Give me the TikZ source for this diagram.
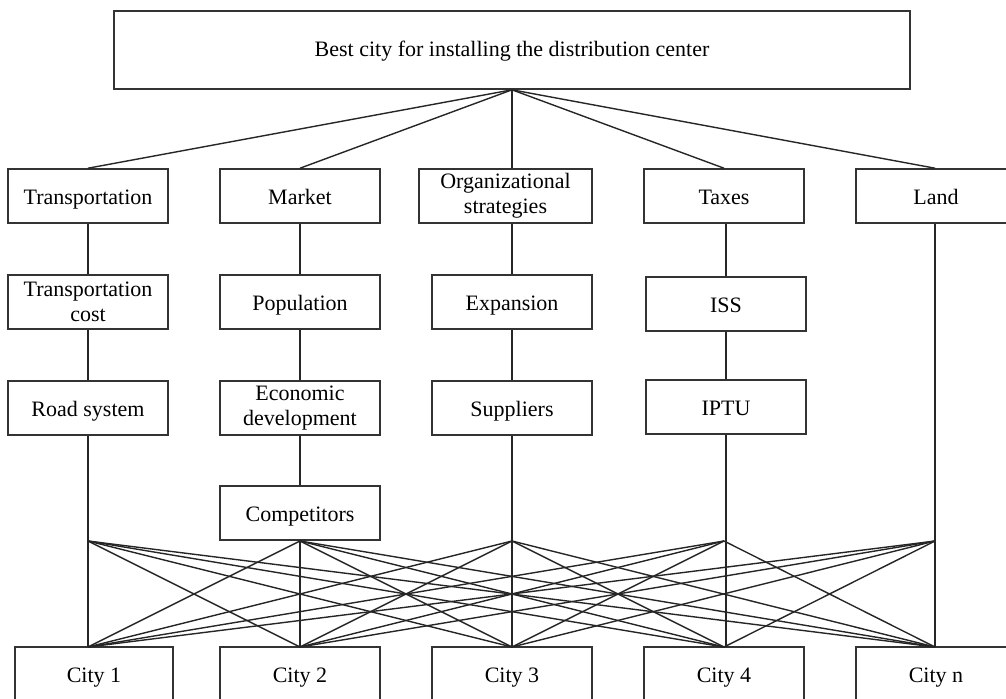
\documentclass[tikz,border=0pt]{standalone}
\usepackage{fontspec}
\setmainfont{Liberation Serif}
\tikzset{
BOX/.style={draw=black!80, line width=0.8pt, fill=white, minimum width=80pt, minimum height=27pt, inner sep=0pt, align=center, font=\fontsize{11}{12.5}\selectfont},
ONE/.style={text height=10pt, text depth=2pt},
LINK/.style={draw=black!85, line width=0.7pt},
}
\begin{document}
\begin{tikzpicture}
[x=0.5pt, y=-0.5pt]
	\useasboundingbox (0,0) rectangle (1006,698);
	\clip (0,0) rectangle (1006,698);
	% goal
	\node[BOX, text height=9pt, text depth=3pt, minimum width=398pt, minimum height=39pt] (goal) at (512,50) {Best city for installing the distribution center};
	% criteria
	\node[BOX, ONE] (trans) at (88,196) {Transportation};
	\node[BOX, ONE] (market) at (300,196) {Market};
	\node[BOX, minimum width=86.5pt] (org) at (505.5,196) {Organizational\\strategies};
	\node[BOX, ONE] (taxes) at (724,196) {Taxes};
	\node[BOX, ONE] (land) at (936,196) {Land};
	% sub-criteria
	\node[BOX] (tcost) at (88,302) {Transportation\\cost};
	\node[BOX, ONE] (pop) at (300,302) {Population};
	\node[BOX, ONE] (exp) at (512,302) {Expansion};
	\node[BOX, ONE] (iss) at (726,304) {ISS};
	\node[BOX, ONE] (road) at (88,408) {Road system};
	\node[BOX] (econ) at (300,408) {Economic\\development};
	\node[BOX, ONE] (supp) at (512,408) {Suppliers};
	\node[BOX, ONE] (iptu) at (726,407) {IPTU};
	\node[BOX, ONE] (comp) at (300,513) {Competitors};
	% alternatives
	\node[BOX, ONE, minimum width=79pt] (c1) at (94,674) {City 1};
	\node[BOX, ONE] (c2) at (300,674) {City 2};
	\node[BOX, ONE] (c3) at (512,674) {City 3};
	\node[BOX, ONE] (c4) at (724,674) {City 4};
	\node[BOX, ONE] (cn) at (936,674) {City n};
	% fan points
	\foreach \n/\x in {1/88,2/300,3/512,4/724,5/935} {
	\coordinate (t\n) at (\x,541);
	\coordinate (b\n) at (\x,647);}
	% goal to criteria
	\path[LINK] (goal.south) -- (trans.north);
	\path[LINK] (goal.south) -- (market.north);
	\path[LINK] (goal.south) -- (goal.south |- org.north);
	\path[LINK] (goal.south) -- (taxes.north);
	\path[LINK] (goal.south) -- (b5 |- land.north);
	% columns
	\path[LINK] (trans) -- (tcost) -- (road) -- (b1);
	\path[LINK] (market) -- (pop) -- (econ) -- (comp) -- (b2);
	\path[LINK] (exp.north |- org.south) -- (exp) -- (supp) -- (b3);
	\path[LINK] (iss.north |- taxes.south) -- (iss) -- (iptu) -- (iptu.south |- b4);
	\path[LINK] (b5 |- land.south) -- (b5);
	% criteria to every city
	\foreach \i in {1,...,5} {
	\foreach \j in {1,...,5} {
	\ifnum\i=\j\else \path[LINK] (t\i) -- (b\j); \fi}}
\end{tikzpicture}
\end{document}
